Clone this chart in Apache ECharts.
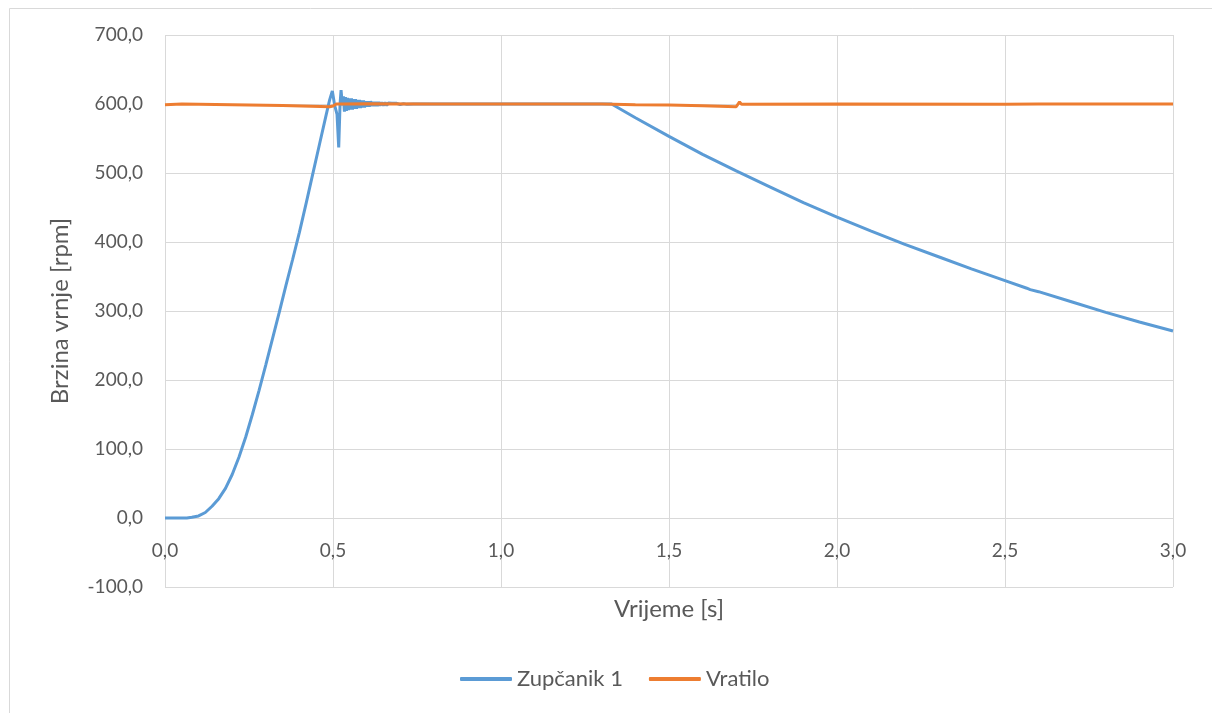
<!DOCTYPE html>
<html>
<head>
<meta charset="utf-8">
<script src="https://cdn.jsdelivr.net/npm/echarts@6/dist/echarts.min.js"></script>
<style>
html,body{margin:0;padding:0;background:#fff;}
#chart{width:1212px;height:713px;}
</style>
</head>
<body>
<div id="chart"></div>
<script>
// Zupčanik 1 (blue)
var blueT = [0, 0.02, 0.04, 0.065, 0.08, 0.1, 0.12, 0.14, 0.16, 0.18, 0.2, 0.22, 0.24, 0.26, 0.28, 0.3, 0.32, 0.34, 0.36, 0.38, 0.4, 0.42, 0.44, 0.46, 0.48, 0.49, 0.498,
  0.505, 0.512, 0.517, 0.521, 0.524, 0.528, 0.531, 0.534, 0.537, 0.54, 0.543, 0.546, 0.549, 0.552, 0.555, 0.558, 0.561, 0.564, 0.567, 0.57, 0.573, 0.576, 0.579, 0.582,
  0.585, 0.588, 0.591, 0.594, 0.597, 0.6, 0.604, 0.608, 0.612, 0.616, 0.62, 0.624, 0.628, 0.632, 0.636, 0.64, 0.645, 0.65, 0.655, 0.66, 0.665, 0.67, 0.675, 0.68, 0.69, 0.7, 0.71, 0.72, 0.74,
  0.8, 0.9, 1.0, 1.1, 1.2, 1.329, 1.4, 1.5, 1.6, 1.7, 1.8, 1.9, 2.0, 2.1, 2.2, 2.3, 2.4, 2.5, 2.565, 2.575, 2.6, 2.7, 2.8, 2.9, 3.0];
var blueV = [0, 0, 0, 0, 1, 3, 8, 17, 28, 43, 63, 88, 117, 150, 185, 222, 260, 298, 337, 375, 414, 456, 499, 542, 585, 606, 619,
  598, 585, 537, 600, 620, 598, 611, 589, 610, 590, 609, 591, 608, 592, 608, 592, 607, 593, 607, 593, 606, 594, 606, 594,
  605, 595, 605, 595, 604, 596, 604, 596, 604, 597, 603, 597, 603, 597, 603, 598, 602, 598, 602, 598, 601.5, 599, 601, 599, 601, 599, 600.5, 599.5, 600,
  600, 600, 600, 600, 600, 600, 580, 553, 527, 503, 480, 457, 436, 416, 397, 379, 361, 344, 333, 331, 328, 313, 298, 284, 271];
// Vratilo (orange)
var orangeT = [0, 0.05, 0.2, 0.35, 0.49, 0.5, 0.51, 0.515, 0.52, 0.6, 0.8, 1.0, 1.3, 1.4, 1.5, 1.6, 1.7, 1.705, 1.71, 1.716, 1.72, 2.0, 2.5, 2.6, 3.0];
var orangeV = [599, 600, 599, 598, 596, 597, 600, 602, 600, 600.5, 600, 600, 600, 599, 598.5, 597.5, 596, 597, 603, 599.5, 600.5, 600, 599.5, 600, 600];

var seriesNames = ['Zupčanik 1', 'Vratilo'];
var xTicks = {min: 0, max: 3, interval: 0.5};
var yTicks = {min: -100, max: 700, interval: 100};

function pairs(t, v) { return t.map(function (x, i) { return [x, v[i]]; }); }
function fmt(v) { return v.toFixed(1).replace('.', ','); }

var FONT = 'Lato, "Open Sans", sans-serif';
var chart = echarts.init(document.getElementById('chart'), null, {renderer: 'canvas'});
chart.setOption({
  animation: false,
  backgroundColor: '#fff',
  graphic: [{
    type: 'rect', left: 7, top: 6, shape: {width: 1230, height: 730},
    style: {fill: 'none', stroke: '#D9D9D9', lineWidth: 1}, silent: true
  }],
  grid: {left: 165, right: 39, top: 35, bottom: 126},
  legend: {
    bottom: 18, left: 455,
    itemWidth: 52, itemHeight: 4, itemGap: 26,
    icon: 'roundRect',
    textStyle: {fontFamily: FONT, fontSize: 22, color: '#595959'},
    data: seriesNames
  },
  xAxis: {
    type: 'value', min: xTicks.min, max: xTicks.max, interval: xTicks.interval,
    name: 'Vrijeme [s]', nameLocation: 'middle', nameGap: 10,
    nameTextStyle: {fontFamily: FONT, fontSize: 24, color: '#595959', verticalAlign: 'top'},
    axisLine: {show: false, onZero: false},
    axisTick: {show: false},
    axisLabel: {margin: -46, fontFamily: FONT, fontSize: 19, color: '#595959', formatter: fmt, verticalAlign: 'top'},
    splitLine: {show: true, lineStyle: {color: '#D9D9D9', width: 1}}
  },
  yAxis: {
    type: 'value', min: yTicks.min, max: yTicks.max, interval: yTicks.interval,
    name: 'Brzina vrnje [rpm]', nameLocation: 'middle', nameGap: 93,
    nameTextStyle: {fontFamily: FONT, fontSize: 24, color: '#595959'},
    axisLine: {show: false},
    axisTick: {show: false},
    axisLabel: {margin: 22, fontFamily: FONT, fontSize: 19, color: '#595959', formatter: fmt},
    splitLine: {show: true, lineStyle: {color: '#D9D9D9', width: 1}}
  },
  series: [
    {name: seriesNames[0], type: 'line', data: pairs(blueT, blueV), showSymbol: false,
     lineStyle: {color: '#5B9BD5', width: 3}, itemStyle: {color: '#5B9BD5'}},
    {name: seriesNames[1], type: 'line', data: pairs(orangeT, orangeV), showSymbol: false,
     lineStyle: {color: '#ED7D31', width: 3}, itemStyle: {color: '#ED7D31'}}
  ]
});
</script>
</body>
</html>
